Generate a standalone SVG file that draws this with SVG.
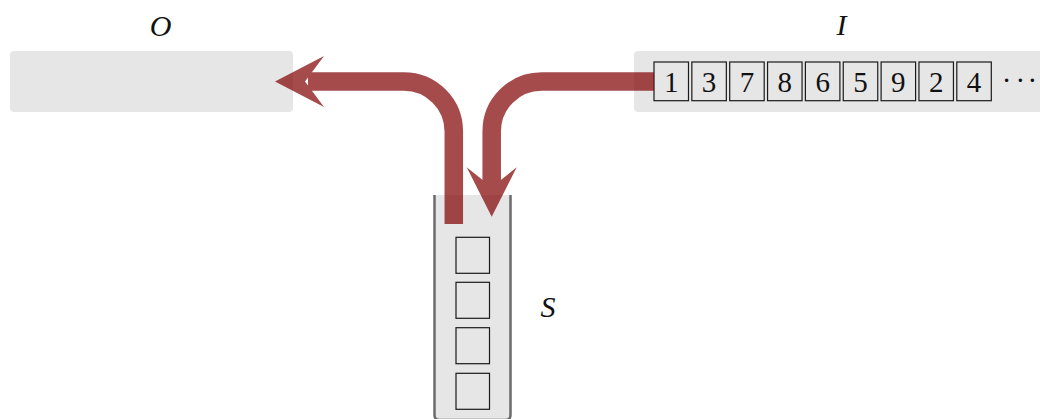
<svg xmlns="http://www.w3.org/2000/svg" width="1040" height="419" viewBox="0 0 1040 419">
  <style>
    .box { fill: #e6e6e6; }
    .cell { fill: #e6e6e6; stroke: #1a1a1a; stroke-width: 1.2; }
    .num { font-family: "Liberation Serif", "DejaVu Serif", serif; font-size: 29px; fill: #111; text-anchor: middle; }
    .lbl { font-family: "Liberation Serif", "DejaVu Serif", serif; font-size: 30px; font-style: italic; fill: #111; text-anchor: middle; }
    .wall { fill: none; stroke: #6b6b6b; stroke-width: 2.5; }
    .flow { fill: none; stroke: #800000; stroke-width: 18.5; }
    .head { fill: #800000; stroke: none; }
  </style>
  <rect width="1040" height="419" fill="#ffffff"/>

  <g id="output">
    <rect class="box" x="10" y="51" width="283" height="61" rx="4"/>
    <text class="lbl" x="160.5" y="35.5">O</text>
  </g>

  <g id="input">
    <rect class="box" x="634" y="51" width="420" height="61" rx="4"/>
    <text class="lbl" x="841.5" y="34.5">I</text>
    <rect class="cell" x="654" y="62" width="34.5" height="38.7"/>
    <rect class="cell" x="691.85" y="62" width="34.5" height="38.7"/>
    <rect class="cell" x="729.7" y="62" width="34.5" height="38.7"/>
    <rect class="cell" x="767.55" y="62" width="34.5" height="38.7"/>
    <rect class="cell" x="805.4" y="62" width="34.5" height="38.7"/>
    <rect class="cell" x="843.25" y="62" width="34.5" height="38.7"/>
    <rect class="cell" x="881.1" y="62" width="34.5" height="38.7"/>
    <rect class="cell" x="918.95" y="62" width="34.5" height="38.7"/>
    <rect class="cell" x="956.8" y="62" width="34.5" height="38.7"/>
    <text class="num" x="671.25" y="91.5">1</text>
    <text class="num" x="709.1" y="91.5">3</text>
    <text class="num" x="746.95" y="91.5">7</text>
    <text class="num" x="784.8" y="91.5">8</text>
    <text class="num" x="822.65" y="91.5">6</text>
    <text class="num" x="860.5" y="91.5">5</text>
    <text class="num" x="898.35" y="91.5">9</text>
    <text class="num" x="936.2" y="91.5">2</text>
    <text class="num" x="974.05" y="91.5">4</text>
    <text x="1001.7 1015.4 1027.4" y="89.5" font-family="Liberation Serif, DejaVu Serif, serif" font-size="29" fill="#111">···</text>
  </g>

  <g id="stack">
    <rect class="box" x="434" y="195" width="77" height="226" rx="4"/>
    <path class="wall" d="M434.5,195 V415 Q434.5,420 439.5,420 H505.5 Q510.5,420 510.5,415 V195"/>
    <rect class="cell" x="456" y="237.3" width="33.5" height="36"/>
    <rect class="cell" x="456" y="282.3" width="33.5" height="36"/>
    <rect class="cell" x="456" y="327.7" width="33.5" height="36"/>
    <rect class="cell" x="456" y="373.3" width="33.5" height="36"/>
    <text class="lbl" x="548" y="317">S</text>
  </g>

  <g id="connectors">
    <g id="pop" opacity="0.7">
      <path class="flow" d="M453.8,224 V131.5 A50,50 0 0 0 403.8,81.5 H308"/>
      <polygon class="head" points="275,81.5 324,56 305,81.5 324,107"/>
    </g>
    <g id="push" opacity="0.7">
      <path class="flow" d="M654,81.5 H541.7 A50,50 0 0 0 491.7,131.5 V190"/>
      <polygon class="head" points="491.7,216.7 466.7,167.3 491.7,187.3 516.7,167.3"/>
    </g>
  </g>
</svg>
